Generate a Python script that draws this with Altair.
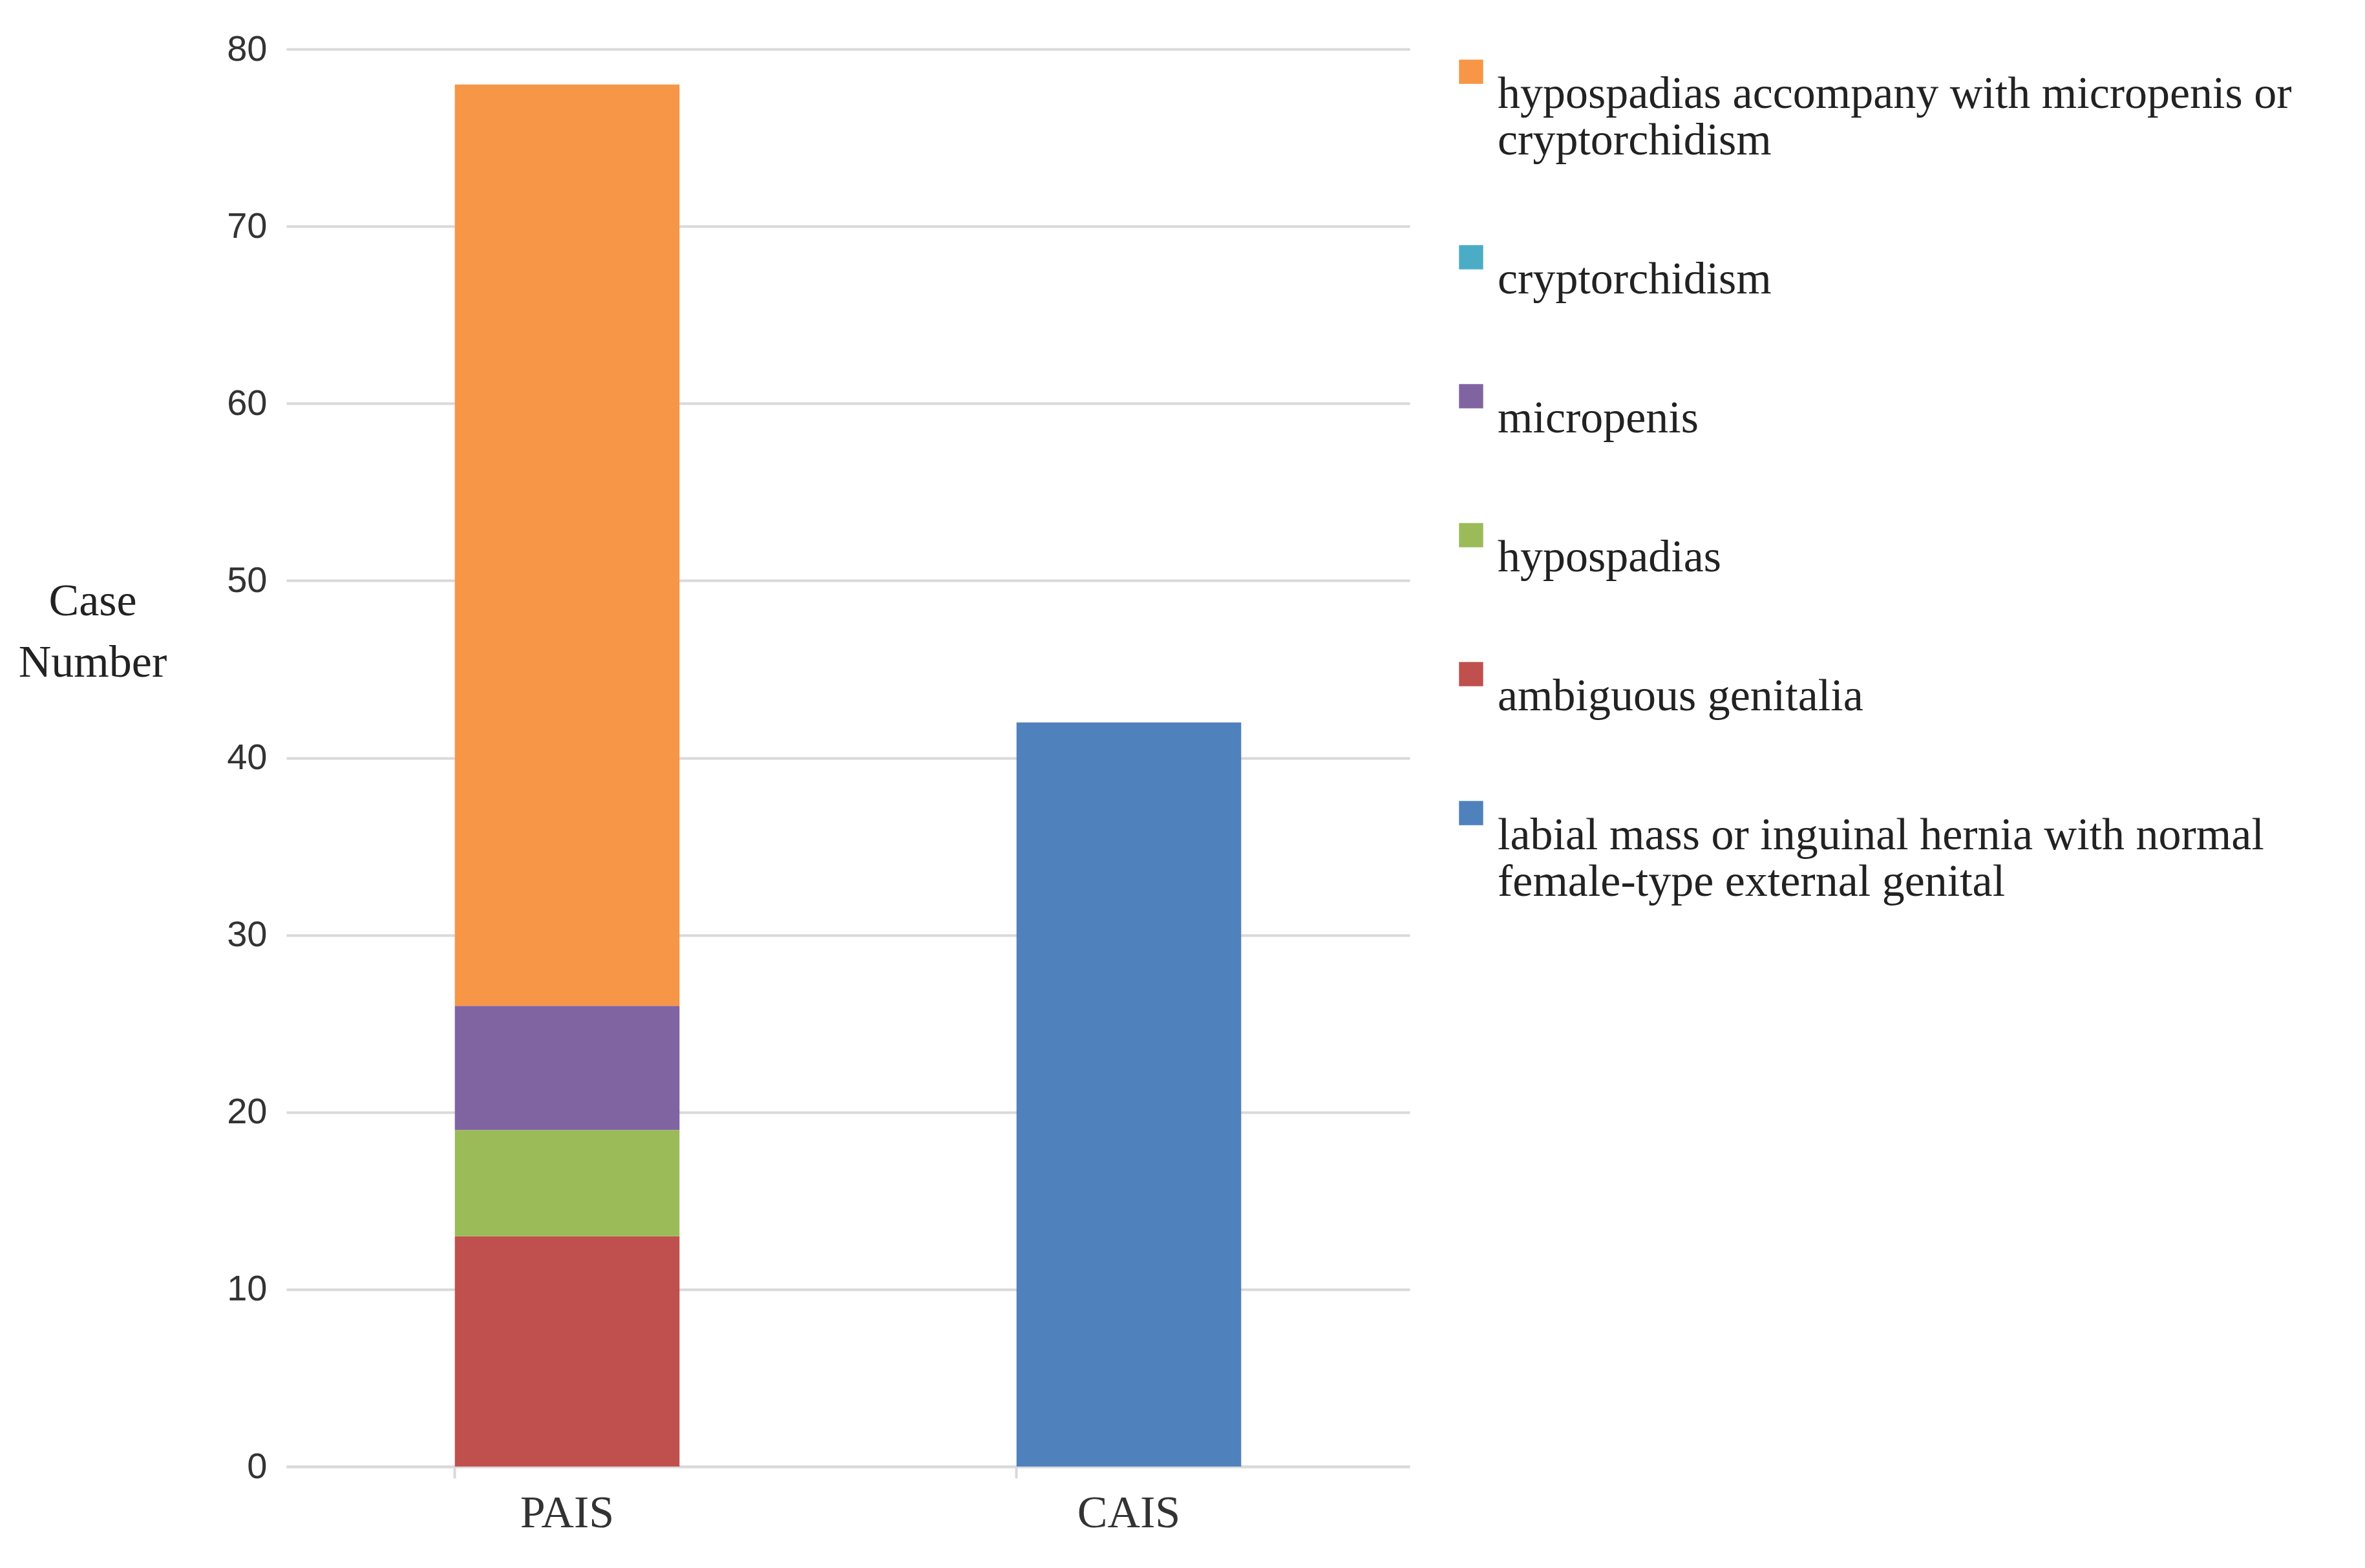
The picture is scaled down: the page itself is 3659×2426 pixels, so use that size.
import altair as alt
import pandas as pd

groups = ["PAIS","PAIS","PAIS","PAIS","PAIS","CAIS"]
cats = ["ambiguous genitalia","hypospadias","micropenis","cryptorchidism",
        "hypospadias accompany with micropenis or cryptorchidism",
        "labial mass or inguinal hernia with normal female-type external genital"]
vals = [13,6,7,0,52,42]
legend_order = [cats[4], cats[3], cats[2], cats[1], cats[0], cats[5]]
colors = ["#F79646","#4BACC6","#8064A2","#9BBB59","#C0504D","#4F81BD"]

df = pd.DataFrame({"group":groups,"cat":cats,"val":vals,"ord":list(range(6))})

lab = ("datum.label == 'hypospadias accompany with micropenis or cryptorchidism' ? "
       "['hypospadias accompany with micropenis or','cryptorchidism'] : "
       "datum.label == 'labial mass or inguinal hernia with normal female-type external genital' ? "
       "['labial mass or inguinal hernia with normal','female-type external genital'] : datum.label")

chart = alt.Chart(df).mark_bar().encode(
    x=alt.X("group:N", sort=["PAIS","CAIS"], title=None,
            scale=alt.Scale(paddingInner=0.6, paddingOuter=0.3),
            axis=alt.Axis(labelAngle=0, labelFont="Liberation Serif", labelFontSize=70,
                          labelColor="#333", labelPadding=20, domainColor="#d9d9d9",
                          domainWidth=4, tickColor="#d9d9d9", tickWidth=4, tickSize=18,
                          bandPosition=0)),
    y=alt.Y("val:Q", stack="zero", title=["Case","Number"],
            scale=alt.Scale(domain=[0,80]),
            axis=alt.Axis(values=list(range(0,81,10)), labelFont="Liberation Sans",
                          labelFontSize=56, labelColor="#333", labelPadding=30,
                          domain=False, ticks=False, gridColor="#d9d9d9", gridWidth=4,
                          titleAngle=0, titleFont="Liberation Serif", titleFontSize=70,
                          titleFontWeight="normal", titleColor="#222",
                          titleAlign="center", titleX=-300, titleY=890, titleLineHeight=95)),
    color=alt.Color("cat:N", sort=legend_order, title=None,
                    scale=alt.Scale(domain=legend_order, range=colors),
                    legend=alt.Legend(labelFont="Liberation Serif", labelFontSize=70,
                                      labelColor="#222", labelExpr=lab, labelLimit=1500,
                                      symbolType="square", symbolSize=1400,
                                      symbolStrokeWidth=0, rowPadding=110,
                                      labelBaseline="line-top", labelOffset=6,
                                      offset=60, orient="right", padding=0)),
    order=alt.Order("ord:Q")
).properties(width=1738, height=2193, padding={"top": 40, "left": 20, "right": 5, "bottom": 5}
).configure_view(stroke=None)

chart.save("out.html", embed_options={"renderer": "svg", "actions": False})
